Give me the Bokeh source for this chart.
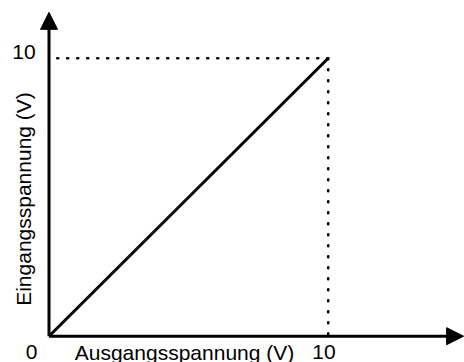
import math
from bokeh.plotting import figure
from bokeh.models import Arrow, NormalHead, Range1d
from bokeh.embed import file_html
from bokeh.resources import INLINE
from bokeh.core.properties import value

# ---- chart content ----
line_x = [0, 10]          # Ausgangsspannung (V)
line_y = [0, 10]          # Eingangsspannung (V)
x_tick_vals = [0, 10]
x_tick_labels = ["0", "10"]
y_tick_vals = [10]
y_tick_labels = ["10"]
x_title = "Ausgangsspannung (V)"
y_title = "Eingangsspannung (V)"
x_axis_end = 14.85
y_axis_end = 11.65

# ---- layout (canvas pixels) ----
W, H = 464, 362
OX, OY = 48.5, 335.7      # origin on canvas
SX, SY = 27.92, 27.8      # px per unit

def dx(px):
    return (px - OX) / SX

def dy(py):
    return (OY - py) / SY

p = figure(width=W, height=H, output_backend="svg", toolbar_location=None,
           x_range=Range1d(dx(0), dx(W)), y_range=Range1d(dy(H), dy(0)),
           min_border=0)
p.axis.visible = False
p.grid.visible = False
p.outline_line_color = None
p.background_fill_color = "white"
p.border_fill_color = "white"

FONT = value("Liberation Sans")
FS = "21px"

# dotted guide lines from the end point to the axes
xe, ye = line_x[-1], line_y[-1]
p.line([xe, 0], [ye, ye], line_color="black", line_width=2.6,
       line_dash="1 9", line_cap="round")
p.line([xe, xe], [ye, 0], line_color="black", line_width=2.6,
       line_dash="1 10", line_cap="round")

# main characteristic line
p.line(line_x, line_y, line_color="black", line_width=3)

# axes with arrows
p.add_layout(Arrow(x_start=0, y_start=0, x_end=x_axis_end, y_end=0,
                   line_color="black", line_width=3,
                   end=NormalHead(size=17, fill_color="black", line_color="black", line_width=1)))
p.add_layout(Arrow(x_start=0, y_start=0, x_end=0, y_end=y_axis_end,
                   line_color="black", line_width=3,
                   end=NormalHead(size=17, fill_color="black", line_color="black", line_width=1)))

mid_y = dy(351.5)

# x tick labels
x_lab_pos = [dx(31), dx(323.5)]
p.text(x=x_lab_pos, y=[mid_y] * len(x_tick_labels), text=x_tick_labels,
       text_font=FONT, text_font_size=FS, text_color="black",
       text_align="center", text_baseline="middle")

# x title
p.text(x=[dx(184)], y=[mid_y], text=[x_title],
       text_font=FONT, text_font_size=FS, text_color="black",
       text_align="center", text_baseline="middle")

# y tick label
p.text(x=[dx(23.5)], y=[dy(51)], text=y_tick_labels,
       text_font=FONT, text_font_size=FS, text_color="black",
       text_align="center", text_baseline="middle")

# y title (rotated)
p.text(x=[dx(23)], y=[dy(198.5)], text=[y_title], angle=math.pi / 2,
       text_font=FONT, text_font_size=FS, text_color="black",
       text_align="center", text_baseline="middle")

open("out.html", "w").write(file_html(p, INLINE))
